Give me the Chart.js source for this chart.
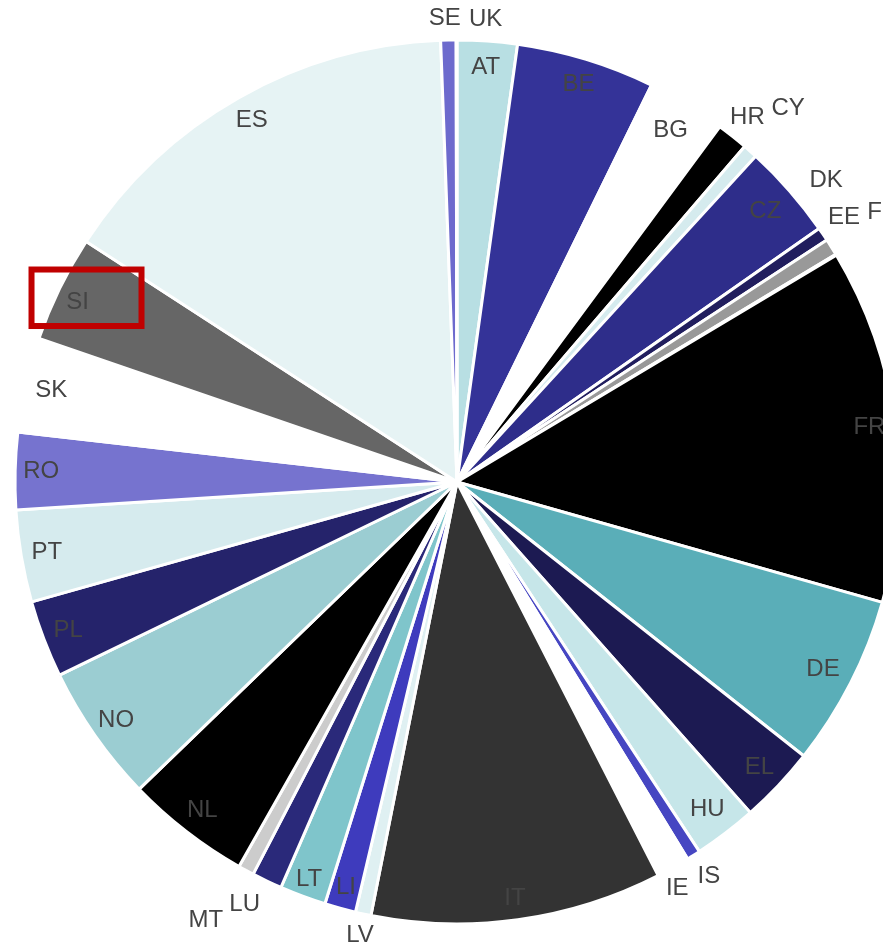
<!DOCTYPE html>
<html>
<head>
<meta charset="utf-8">
<script src="https://cdn.jsdelivr.net/npm/chart.js@4/dist/chart.umd.min.js"></script>
<style>
  html, body { margin: 0; padding: 0; background: #fff; overflow: hidden; }
  canvas { display: block; }
</style>
</head>
<body>
<canvas id="pie" width="914" height="948"></canvas>
<script>
// country shares (%)
const countries = ["AT", "BE", "BG", "HR", "CY", "CZ", "DK", "EE", "FI", "FR", "DE", "EL", "HU", "IS", "IE",
  "IT", "LV", "LI", "LT", "LU", "MT", "NL", "NO", "PL", "PT", "RO", "SK", "SI", "ES", "SE", "UK"];
const shares = [2.19, 5.06, 2.89, 1.14, 0.53, 3.47, 0.50, 0.61, 0.03, 12.97, 6.25, 2.81, 2.31, 0.50, 1.22,
  10.64, 0.57, 1.14, 1.69, 1.11, 0.58, 4.56, 5.03, 2.83, 3.36, 2.81, 3.47, 3.89, 15.25, 0.56, 0.03];
const colours = ["#b8dfe3", "#343398", "#ffffff", "#000000", "#d5ebee", "#2e2d8a", "#211e5e", "#999999", "#ffffff",
  "#000000", "#5aaeb8", "#1c1a52", "#c6e6e9", "#4646c2", "#ffffff", "#333333", "#dff0f2", "#3e3bbd", "#7fc5cb",
  "#2a297a", "#cccccc", "#000000", "#9bcdd2", "#25236b", "#d6ebee", "#7673cf", "#ffffff", "#666666", "#e6f3f4",
  "#6d6acd", "#ffffff"];
const highlighted = "SI";

// label tweaks: dr = px from the outer edge, da = degrees nudge
const labelPlace = {
  LT: { dr: -18 }, LI: { dr: -22 }, IT: { dr: -22 }, BG: { dr: -31 }, CZ: { dr: -32 }, DE: { dr: -31 }, HU: { dr: -30 },
  SI: { dr: -22, da: -0.6 },
  SE: { dr: 22, da: -0.4 }, UK: { dr: 22, da: 3.6 },
  HR: { dr: 24 }, CY: { dr: 57 },
  DK: { dr: 35, da: -5.2 }, EE: { dr: 27, da: -2.3 }, FI: { dr: 58, da: -1.7 },
  IS: { dr: 26, da: -0.2 }, IE: { dr: 20, da: 0.8 },
  LV: { dr: 22, da: -0.2 }, LU: { dr: 31, da: 1.2 }, MT: { dr: 63, da: 1.3 },
};

const sliceLabels = {
  id: "sliceLabels",
  afterDatasetsDraw(chart) {
    const ctx = chart.ctx;
    const arcs = chart.getDatasetMeta(0).data;
    ctx.save();
    ctx.font = "24px 'Liberation Sans', Arial, sans-serif";
    ctx.fillStyle = "#444";
    ctx.textAlign = "center";
    ctx.textBaseline = "middle";
    chart._labelPos = {};
    arcs.forEach((arc, i) => {
      const name = chart.data.labels[i];
      const p = labelPlace[name] || {};
      const a = (arc.startAngle + arc.endAngle) / 2 + (p.da || 0) * Math.PI / 180;
      const r = arc.outerRadius + (p.dr !== undefined ? p.dr : -26);
      const x = arc.x + r * Math.cos(a), y = arc.y + r * Math.sin(a);
      ctx.fillText(name, x, y);
      chart._labelPos[name] = { x, y };
    });
    ctx.restore();
  },
  afterDraw(chart) {
    // red box round the highlighted country
    const p = chart._labelPos && chart._labelPos[highlighted];
    if (!p) return;
    const ctx = chart.ctx;
    ctx.save();
    ctx.strokeStyle = "#c00000";
    ctx.lineWidth = 6;
    ctx.strokeRect(p.x - 46, p.y - 32.5, 110, 56.5);
    ctx.restore();
  },
};

new Chart(document.getElementById("pie"), {
  type: "pie",
  data: {
    labels: countries,
    datasets: [{
      data: shares,
      backgroundColor: colours,
      borderColor: "#ffffff",
      borderWidth: 3,
      radius: 442,
    }],
  },
  options: {
    responsive: false,
    animation: false,
    devicePixelRatio: 1,
    layout: { padding: { top: 16 } },
    plugins: { legend: { display: false }, tooltip: { enabled: false } },
  },
  plugins: [sliceLabels],
});
</script>
</body>
</html>
